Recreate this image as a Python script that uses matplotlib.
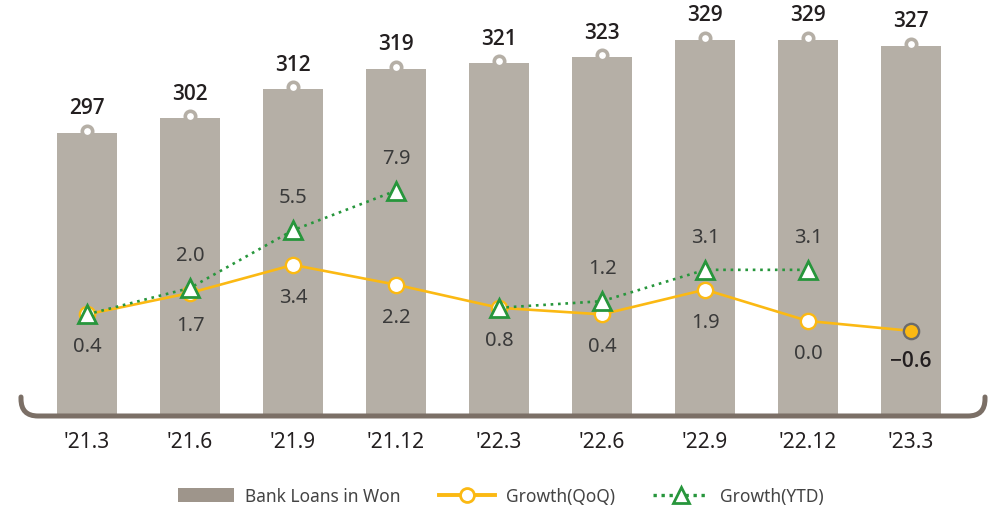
import matplotlib
matplotlib.use("Agg")
import matplotlib.pyplot as plt
import matplotlib.transforms as mtransforms
from matplotlib.path import Path
from matplotlib.patches import PathPatch, Patch
from matplotlib.lines import Line2D
import numpy as np

plt.rcParams['font.family'] = ['Noto Sans', 'DejaVu Sans']
BOLD_FONT = ['Open Sans', 'DejaVu Sans']

# data
quarters = ["'21.3", "'21.6", "'21.9", "'21.12", "'22.3", "'22.6", "'22.9", "'22.12", "'23.3"]
loans = [297, 302, 312, 319, 321, 323, 329, 329, 327]
qoq = [0.4, 1.7, 3.4, 2.2, 0.8, 0.4, 1.9, 0.0, -0.6]
ytd_2021 = [0.4, 2.0, 5.5, 7.9]
ytd_2022 = [0.8, 1.2, 3.1, 3.1]

BAR = '#b5afa6'
BAR_LEG = '#9e958b'
ORANGE = '#fbb913'
GREEN = '#27963c'
BASE = '#7b6f66'
DARK = '#231f20'
TXT = '#3a3a3a'

W, H = 993, 510
fig = plt.figure(figsize=(W / 100, H / 100), dpi=100)
ax = fig.add_axes([0, 95 / H, 1, 415 / H])
ax2 = ax.twinx()

x = np.arange(len(quarters))
ax.set_xlim(-0.845, 8.796)
ax.set_ylim(200, 343.1)
ax2.set_ylim(-5.64, 19.52)

# bars + bar-top rings
ax.bar(x, loans, width=0.59, bottom=0, color=BAR, zorder=1)
ring_tr = mtransforms.offset_copy(ax.transData, fig=fig, x=0, y=2, units='dots')
ax.plot(x, loans, ls='none', marker='o', ms=7.5, mfc='white', mec=BAR, mew=2.6,
        transform=ring_tr, zorder=2)
for xi, v in zip(x, loans):
    ax.annotate(str(v), (xi, v), xytext=(0, 25), textcoords='offset pixels',
                ha='center', va='center', fontsize=15, fontweight='semibold',
                family=BOLD_FONT, color=DARK)

# QoQ line
ax2.plot(x, qoq, color=ORANGE, lw=1.9, zorder=3)
ax2.plot(x[:-1], qoq[:-1], ls='none', marker='o', ms=11, mfc='white', mec=ORANGE,
         mew=1.7, zorder=4)
ax2.plot(x[-1:], qoq[-1:], ls='none', marker='o', ms=11, mfc=ORANGE, mec='#6b6b6b',
         mew=1.7, zorder=4)
for i, v in enumerate(qoq):
    last = i == len(qoq) - 1
    lbl = '{:.1f}'.format(v).replace('-', '\u2212')
    if last:
        ax2.annotate(lbl, (x[i], v), xytext=(0, -30), textcoords='offset pixels',
                     ha='center', va='center', fontsize=15, fontweight='semibold',
                     family=BOLD_FONT, color=DARK)
    else:
        ax2.annotate(lbl, (x[i], v), xytext=(0, -32), textcoords='offset pixels',
                     ha='center', va='center', fontsize=14.5, color=TXT)

# YTD line
for seg, xs in ((ytd_2021, x[0:4]), (ytd_2022, x[4:8])):
    ax2.plot(xs, seg, color=GREEN, lw=1.9, ls=(0, (1, 1.8)), marker='^', ms=13,
             mfc='white', mec=GREEN, mew=2.0, zorder=5)
    for i, v in enumerate(seg):
        if i == 0:
            continue  # first value equals QoQ, labelled below
        ax2.annotate('{:.1f}'.format(v), (xs[i], v), xytext=(0, 33),
                     textcoords='offset pixels', ha='center', va='center',
                     fontsize=14.5, color=TXT)

for a in (ax, ax2):
    for s in a.spines.values():
        s.set_visible(False)
    a.set_yticks([])
ax.set_xticks(x)
ax.set_xticklabels(quarters, fontsize=15, color=DARK)
ax.tick_params(axis='x', length=0, pad=12)

# rounded baseline bracket (pixel coords -> figure fraction)
def px(xp, yp):
    return (xp / W, 1 - yp / H)

verts = [px(21, 398), px(21, 400), px(21, 417), px(38, 417),
         px(968, 417), px(985, 417), px(985, 400), px(985, 398)]
codes = [Path.MOVETO, Path.LINETO, Path.CURVE3, Path.CURVE3,
         Path.LINETO, Path.CURVE3, Path.CURVE3, Path.LINETO]
fig.patches.append(PathPatch(Path(verts, codes), fill=False, lw=3.6, ec=BASE,
                             capstyle='round', transform=fig.transFigure, zorder=10))

# legend
handles = [
    Patch(facecolor=BAR_LEG, edgecolor='none', label='Bank Loans in Won'),
    Line2D([], [], color=ORANGE, lw=2.8, marker='o', ms=10, mfc='white', mec=ORANGE,
           mew=2, label='Growth(QoQ)'),
    Line2D([], [], color=GREEN, lw=2.4, ls=(0, (1, 1.4)), marker='^', ms=11,
           mfc='white', mec=GREEN, mew=2, label='Growth(YTD)'),
]
leg = fig.legend(handles=handles, loc='center', bbox_to_anchor=(501 / W, 1 - 497 / H),
                 ncol=3, frameon=False, fontsize=12.5, handlelength=3.2,
                 handleheight=0.85, handletextpad=0.65, columnspacing=2.2)
for t in leg.get_texts():
    t.set_color('#444444')

fig.savefig('out.png', dpi=100)
